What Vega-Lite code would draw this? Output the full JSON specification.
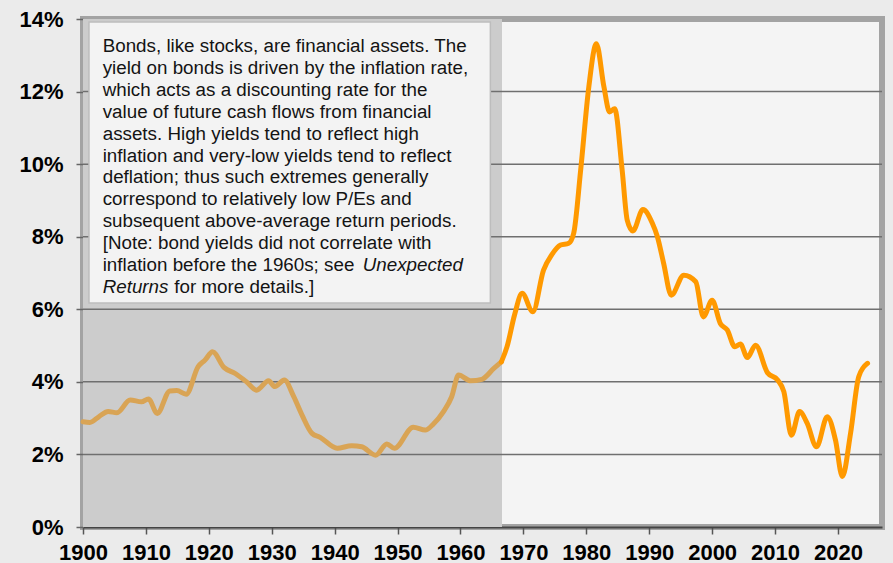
{
  "$schema": "https://vega.github.io/schema/vega-lite/v6.json",
  "width": 799,
  "height": 508,
  "autosize": "none",
  "padding": {"left": 83, "top": 19, "right": 11, "bottom": 36},
  "background": "#ebebeb",
  "config": {
    "font": "Liberation Sans",
    "view": {"fill": "#f4f4f4", "stroke": "#a3a3a3", "strokeWidth": 6}
  },
  "datasets": {
    "bond": [
      {"year": 1900.0, "yield": 2.90, "era": "pre"},
      {"year": 1901.1, "yield": 2.88, "era": "pre"},
      {"year": 1902.6, "yield": 3.05, "era": "pre"},
      {"year": 1904.0, "yield": 3.18, "era": "pre"},
      {"year": 1905.4, "yield": 3.15, "era": "pre"},
      {"year": 1907.5, "yield": 3.50, "era": "pre"},
      {"year": 1909.3, "yield": 3.45, "era": "pre"},
      {"year": 1910.4, "yield": 3.53, "era": "pre"},
      {"year": 1911.8, "yield": 3.13, "era": "pre"},
      {"year": 1913.8, "yield": 3.75, "era": "pre"},
      {"year": 1914.9, "yield": 3.76, "era": "pre"},
      {"year": 1916.4, "yield": 3.66, "era": "pre"},
      {"year": 1918.3, "yield": 4.42, "era": "pre"},
      {"year": 1919.4, "yield": 4.60, "era": "pre"},
      {"year": 1920.6, "yield": 4.83, "era": "pre"},
      {"year": 1922.4, "yield": 4.40, "era": "pre"},
      {"year": 1924.2, "yield": 4.23, "era": "pre"},
      {"year": 1926.0, "yield": 4.00, "era": "pre"},
      {"year": 1927.6, "yield": 3.77, "era": "pre"},
      {"year": 1929.5, "yield": 4.03, "era": "pre"},
      {"year": 1930.5, "yield": 3.87, "era": "pre"},
      {"year": 1932.0, "yield": 4.05, "era": "pre"},
      {"year": 1933.5, "yield": 3.59, "era": "pre"},
      {"year": 1934.8, "yield": 3.09, "era": "pre"},
      {"year": 1936.4, "yield": 2.58, "era": "pre"},
      {"year": 1937.7, "yield": 2.47, "era": "pre"},
      {"year": 1940.4, "yield": 2.17, "era": "pre"},
      {"year": 1942.7, "yield": 2.24, "era": "pre"},
      {"year": 1944.3, "yield": 2.21, "era": "pre"},
      {"year": 1946.5, "yield": 1.98, "era": "pre"},
      {"year": 1948.3, "yield": 2.29, "era": "pre"},
      {"year": 1949.5, "yield": 2.17, "era": "pre"},
      {"year": 1952.5, "yield": 2.75, "era": "pre"},
      {"year": 1954.4, "yield": 2.67, "era": "pre"},
      {"year": 1955.7, "yield": 2.84, "era": "pre"},
      {"year": 1957.3, "yield": 3.18, "era": "pre"},
      {"year": 1958.6, "yield": 3.59, "era": "pre"},
      {"year": 1959.7, "yield": 4.19, "era": "pre"},
      {"year": 1961.6, "yield": 4.03, "era": "pre"},
      {"year": 1963.4, "yield": 4.07, "era": "pre"},
      {"year": 1965.3, "yield": 4.37, "era": "pre"},
      {"year": 1966.5, "yield": 4.55, "era": "pre"},
      {"year": 1966.5, "yield": 4.55, "era": "post"},
      {"year": 1967.4, "yield": 4.97, "era": "post"},
      {"year": 1968.6, "yield": 5.85, "era": "post"},
      {"year": 1969.8, "yield": 6.44, "era": "post"},
      {"year": 1971.5, "yield": 5.93, "era": "post"},
      {"year": 1973.2, "yield": 7.08, "era": "post"},
      {"year": 1974.5, "yield": 7.50, "era": "post"},
      {"year": 1975.9, "yield": 7.77, "era": "post"},
      {"year": 1977.2, "yield": 7.82, "era": "post"},
      {"year": 1978.0, "yield": 8.10, "era": "post"},
      {"year": 1979.1, "yield": 9.83, "era": "post"},
      {"year": 1980.4, "yield": 12.13, "era": "post"},
      {"year": 1981.6, "yield": 13.32, "era": "post"},
      {"year": 1982.8, "yield": 12.13, "era": "post"},
      {"year": 1983.7, "yield": 11.44, "era": "post"},
      {"year": 1984.5, "yield": 11.53, "era": "post"},
      {"year": 1985.7, "yield": 9.83, "era": "post"},
      {"year": 1986.5, "yield": 8.46, "era": "post"},
      {"year": 1987.4, "yield": 8.16, "era": "post"},
      {"year": 1989.0, "yield": 8.75, "era": "post"},
      {"year": 1990.5, "yield": 8.37, "era": "post"},
      {"year": 1991.3, "yield": 8.00, "era": "post"},
      {"year": 1992.3, "yield": 7.26, "era": "post"},
      {"year": 1993.5, "yield": 6.39, "era": "post"},
      {"year": 1995.5, "yield": 6.94, "era": "post"},
      {"year": 1997.4, "yield": 6.76, "era": "post"},
      {"year": 1998.6, "yield": 5.79, "era": "post"},
      {"year": 2000.0, "yield": 6.25, "era": "post"},
      {"year": 2001.3, "yield": 5.61, "era": "post"},
      {"year": 2002.4, "yield": 5.43, "era": "post"},
      {"year": 2003.6, "yield": 4.97, "era": "post"},
      {"year": 2004.5, "yield": 5.04, "era": "post"},
      {"year": 2005.6, "yield": 4.67, "era": "post"},
      {"year": 2006.9, "yield": 5.01, "era": "post"},
      {"year": 2008.8, "yield": 4.25, "era": "post"},
      {"year": 2010.4, "yield": 4.05, "era": "post"},
      {"year": 2011.4, "yield": 3.73, "era": "post"},
      {"year": 2012.6, "yield": 2.53, "era": "post"},
      {"year": 2013.9, "yield": 3.18, "era": "post"},
      {"year": 2015.1, "yield": 2.86, "era": "post"},
      {"year": 2016.6, "yield": 2.21, "era": "post"},
      {"year": 2018.3, "yield": 3.04, "era": "post"},
      {"year": 2019.6, "yield": 2.40, "era": "post"},
      {"year": 2020.7, "yield": 1.39, "era": "post"},
      {"year": 2022.0, "yield": 2.58, "era": "post"},
      {"year": 2023.3, "yield": 4.14, "era": "post"},
      {"year": 2024.7, "yield": 4.51, "era": "post"}
    ],
    "grid": [{"g": 2}, {"g": 4}, {"g": 6}, {"g": 8}, {"g": 10}, {"g": 12}]
  },
  "layer": [
    {
      "data": {"values": [{}]},
      "mark": {"type": "rect", "fill": "#cccccc"},
      "encoding": {
        "x": {
          "datum": 1900, "type": "quantitative",
          "scale": {"domain": [1900, 2027], "nice": false, "zero": false},
          "axis": {
            "values": [1900, 1910, 1920, 1930, 1940, 1950, 1960, 1970, 1980, 1990, 2000, 2010, 2020],
            "format": "d", "title": null, "grid": false,
            "labelFont": "Liberation Sans", "labelFontSize": 22, "labelFontWeight": "bold",
            "labelColor": "#000000", "labelFlush": false, "labelOverlap": false,
            "tickSize": 7, "tickColor": "#555555", "tickWidth": 1.5, "labelPadding": 8,
            "domainColor": "#444444", "domainWidth": 2
          }
        },
        "x2": {"datum": 1966.6},
        "y": {
          "datum": 0, "type": "quantitative",
          "scale": {"domain": [0, 14], "nice": false},
          "axis": {
            "values": [0, 2, 4, 6, 8, 10, 12, 14],
            "labelExpr": "datum.value + '%'", "title": null, "grid": false,
            "labelFont": "Liberation Sans", "labelFontSize": 22, "labelFontWeight": "bold",
            "labelColor": "#000000", "labelFlush": false, "labelOverlap": false,
            "tickSize": 7, "tickColor": "#666666", "tickWidth": 1.5, "labelPadding": 13,
            "domain": false
          }
        },
        "y2": {"datum": 14}
      }
    },
    {
      "data": {"name": "grid"},
      "mark": {"type": "rule", "color": "#6f6f6f", "strokeWidth": 1.5},
      "encoding": {"y": {"field": "g", "type": "quantitative"}}
    },
    {
      "data": {"name": "bond"},
      "mark": {"type": "line", "strokeWidth": 5, "interpolate": "monotone", "strokeCap": "round", "strokeJoin": "round"},
      "encoding": {
        "x": {"field": "year", "type": "quantitative"},
        "y": {"field": "yield", "type": "quantitative"},
        "color": {
          "field": "era", "type": "nominal",
          "scale": {"domain": ["pre", "post"], "range": ["#d9a455", "#ff9900"]},
          "legend": null
        },
        "order": {"field": "year", "type": "quantitative"}
      }
    },
    {
      "data": {"values": [{}]},
      "mark": {"type": "rect", "fill": "#f3f3f3", "stroke": "#bdbdbd", "strokeWidth": 1.5},
      "encoding": {
        "x": {"datum": 1900.95, "type": "quantitative"},
        "x2": {"datum": 1964.75},
        "y": {"datum": 13.92, "type": "quantitative"},
        "y2": {"datum": 6.17}
      }
    },
    {
      "data": {"values": [{}]},
      "mark": {
        "type": "text", "align": "left", "baseline": "alphabetic",
        "font": "Liberation Sans", "fontSize": 18.8, "lineHeight": 21.85, "color": "#141414",
        "text": [
          "Bonds, like stocks, are financial assets. The",
          "yield on bonds is driven by the inflation rate,",
          "which acts as a discounting rate for the",
          "value of future cash flows from financial",
          "assets. High yields tend to reflect high",
          "inflation and very-low yields tend to reflect",
          "deflation; thus such extremes generally",
          "correspond to relatively low P/Es and",
          "subsequent above-average return periods.",
          "[Note: bond yields did not correlate with",
          "inflation before the 1960s; see"
        ]
      },
      "encoding": {
        "x": {"datum": 1903.13, "type": "quantitative"},
        "y": {"datum": 13.08, "type": "quantitative"}
      }
    },
    {
      "data": {"values": [{}]},
      "mark": {
        "type": "text", "align": "left", "baseline": "alphabetic", "dx": 260, "dy": 218.5,
        "font": "Liberation Sans", "fontSize": 18.8, "fontStyle": "italic", "color": "#141414",
        "text": "Unexpected"
      },
      "encoding": {
        "x": {"datum": 1903.13, "type": "quantitative"},
        "y": {"datum": 13.08, "type": "quantitative"}
      }
    },
    {
      "data": {"values": [{}]},
      "mark": {
        "type": "text", "align": "left", "baseline": "alphabetic", "dy": 240.35,
        "font": "Liberation Sans", "fontSize": 18.8, "fontStyle": "italic", "color": "#141414",
        "text": "Returns"
      },
      "encoding": {
        "x": {"datum": 1903.13, "type": "quantitative"},
        "y": {"datum": 13.08, "type": "quantitative"}
      }
    },
    {
      "data": {"values": [{}]},
      "mark": {
        "type": "text", "align": "left", "baseline": "alphabetic", "dx": 71.6, "dy": 240.35,
        "font": "Liberation Sans", "fontSize": 18.8, "color": "#141414",
        "text": "for more details.]"
      },
      "encoding": {
        "x": {"datum": 1903.13, "type": "quantitative"},
        "y": {"datum": 13.08, "type": "quantitative"}
      }
    }
  ]
}
